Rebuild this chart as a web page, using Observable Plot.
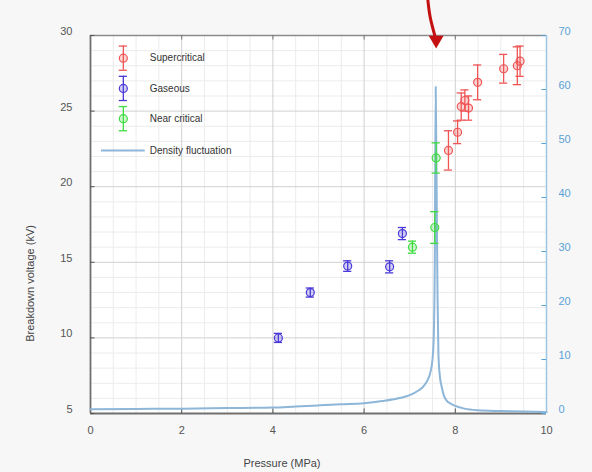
<!DOCTYPE html>
<html>
<head>
<meta charset="utf-8">
<script src="https://cdn.jsdelivr.net/npm/d3@7"></script>
<script src="https://cdn.jsdelivr.net/npm/@observablehq/plot@0.6"></script>
<style>
  html, body { margin: 0; padding: 0; background: #f7f7f7; }
  #chart { width: 592px; height: 472px; }
</style>
</head>
<body>
<div id="chart"></div>
<script>
// ---- data ----
const superX   = [7.85, 8.05, 8.13, 8.21, 8.29, 8.49, 9.06, 9.36, 9.42];
const superY   = [22.4, 23.6, 25.3, 25.7, 25.2, 26.9, 27.8, 28.0, 28.3];
const superErr = [1.3, 0.75, 0.9, 0.7, 0.8, 1.15, 0.95, 1.25, 1.0];

const gasX   = [4.12, 4.82, 5.64, 6.56, 6.84];
const gasY   = [10.0, 13.0, 14.75, 14.7, 16.9];
const gasErr = [0.3, 0.3, 0.35, 0.4, 0.4];

const nearX   = [7.06, 7.55, 7.58];
const nearY   = [16.0, 17.3, 21.9];
const nearErr = [0.4, 1.05, 1.0];

// density fluctuation (right axis units)
const densX = [0, 1, 2, 3, 4, 4.5, 5, 5.5, 6, 6.4, 6.8, 7.0, 7.2, 7.3, 7.4, 7.45, 7.5, 7.53, 7.55, 7.57, 7.59, 7.61, 7.63, 7.66, 7.7, 7.75, 7.8, 7.9, 8.0, 8.2, 8.5, 9, 9.5, 10];
const densY = [0.8, 0.85, 0.9, 1.0, 1.1, 1.3, 1.5, 1.7, 1.9, 2.3, 2.9, 3.4, 4.3, 5.0, 6.3, 7.5, 10, 15, 28, 60.5, 42, 22, 11, 7, 5, 3.3, 2.5, 1.8, 1.4, 0.9, 0.6, 0.45, 0.35, 0.3];

const xTicks = [0, 2, 4, 6, 8, 10];
const yTicks = [5, 10, 15, 20, 25, 30];
const rightTicks = [0, 10, 20, 30, 40, 50, 60, 70];
const legendLabels = ["Supercritical", "Gaseous", "Near critical", "Density fluctuation"];

const colors = { sup: "#ef5555", gas: "#4a3ad8", near: "#3fdc3f", dens: "#8db6d8", right: "#5aa2d6" };

// right axis (0..70) mapped onto left axis (5..30)
const toLeft = v => 5 + v * 25 / 70;
const fromLeft = v => (v - 5) * 70 / 25;

const zip = (xs, ys, es) => xs.map((x, i) => ({ x, y: ys[i], e: es[i] }));
const sup = zip(superX, superY, superErr);
const gas = zip(gasX, gasY, gasErr);
const near = zip(nearX, nearY, nearErr);
const dens = densX.map((x, i) => ({ x, y: toLeft(densY[i]) }));

const cap = 0.09;
function errMarks(data, color) {
  return [
    Plot.ruleX(data, { x: "x", y1: d => d.y - d.e, y2: d => d.y + d.e, stroke: color, strokeWidth: 1.3 }),
    Plot.ruleY(data, { y: d => d.y + d.e, x1: d => d.x - cap, x2: d => d.x + cap, stroke: color, strokeWidth: 1.3 }),
    Plot.ruleY(data, { y: d => d.y - d.e, x1: d => d.x - cap, x2: d => d.x + cap, stroke: color, strokeWidth: 1.3 }),
    Plot.dot(data, { x: "x", y: "y", r: 4, stroke: color, fill: color, fillOpacity: 0.25, strokeWidth: 1.2 })
  ];
}

// legend entries (inside plot, top-left)
const legendRows = [
  { label: legendLabels[0], color: colors.sup, x: 0.72, y: 28.5, e: 0.8 },
  { label: legendLabels[1], color: colors.gas, x: 0.72, y: 26.5, e: 0.8 },
  { label: legendLabels[2], color: colors.near, x: 0.72, y: 24.5, e: 0.8 }
];
const legendMarks = legendRows.flatMap(r => errMarks([r], r.color));

// minor grid
const minorX = d3.range(0.5, 10, 0.5).filter(v => v % 2 !== 0);
const minorY = d3.range(6, 30, 1).filter(v => v % 5 !== 0);

// arrow annotation
const arrowX = [7.40, 7.45, 7.55];
const arrowY = [32.3, 31.2, 30.0];

const chart = Plot.plot({
  width: 592,
  height: 472,
  marginLeft: 90,
  marginRight: 46,
  marginTop: 35,
  marginBottom: 59,
  x: { domain: [0, 10] },
  y: { domain: [5, 30] },
  style: { fontFamily: "Liberation Sans, Arial, sans-serif", background: "#f7f7f7", overflow: "visible" },
  marks: [
    Plot.frame({ fill: "white", stroke: "none" }),
    Plot.gridX(minorX, { stroke: "#ececec", strokeOpacity: 1 }),
    Plot.gridY(minorY, { stroke: "#ececec", strokeOpacity: 1 }),
    Plot.gridX([2, 4, 6, 8], { stroke: "#d0d0d0", strokeOpacity: 1 }),
    Plot.gridY([10, 15, 20, 25], { stroke: "#d0d0d0", strokeOpacity: 1 }),
    // frame edges
    Plot.ruleY([30], { stroke: "#8a8a8a", strokeWidth: 1.5 }),
    Plot.ruleX([10], { stroke: "#9cc6e4", strokeWidth: 1.5 }),
    Plot.ruleX([0], { stroke: "#707070", strokeWidth: 1.8 }),
    Plot.ruleY([5], { stroke: "#707070", strokeWidth: 1.8 }),
    // inward ticks
    Plot.ruleY(yTicks, { x1: 0, x2: 0.1, stroke: "#555" }),
    Plot.ruleX(xTicks.slice(1, -1), { y1: 5, y2: 5.3, stroke: "#555" }),
    Plot.ruleX(xTicks.slice(1, -1), { y1: 29.7, y2: 30, stroke: "#777" }),
    Plot.ruleY(rightTicks.map(toLeft), { x1: 9.9, x2: 10, stroke: "#5aa2d6" }),
    // axes labels
    Plot.axisX(xTicks, { tickSize: 0, tickPadding: 13, fontSize: 11, fill: "#555", label: null }),
    Plot.axisY(yTicks, { anchor: "left", tickSize: 0, tickPadding: 18, dy: -4, fontSize: 11, fill: "#555", label: null }),
    Plot.axisY(rightTicks.map(toLeft), { anchor: "right", tickSize: 0, tickPadding: 12, dy: -4, fontSize: 11, fill: colors.right, label: null, tickFormat: v => Math.round(fromLeft(v)) }),
    Plot.text(["Breakdown voltage (kV)"], { x: 0, y: 13.6, dx: -60, rotate: -90, fontSize: 11, fill: "#444", text: d => d }),
    Plot.text(["Pressure (MPa)"], { x: 4.2, y: 5, dy: 50, fontSize: 11, fill: "#444", text: d => d }),
    // density fluctuation
    Plot.line(dens, { x: "x", y: "y", stroke: colors.dens, strokeWidth: 2, curve: "monotone-x" }),
    // data
    ...errMarks(gas, colors.gas),
    ...errMarks(near, colors.near),
    ...errMarks(sup, colors.sup),
    // legend
    ...legendMarks,
    Plot.text(legendRows, { x: 1.3, y: "y", text: "label", textAnchor: "start", fontSize: 10, fill: "#333" }),
    Plot.ruleY([22.4], { x1: 0.24, x2: 1.2, stroke: colors.dens, strokeWidth: 2 }),
    Plot.text([legendLabels[3]], { x: 1.3, y: 22.4, text: d => d, textAnchor: "start", fontSize: 10, fill: "#333" }),
    // arrow annotation
    Plot.line(arrowX.map((x, i) => ({ x, y: arrowY[i] })), { x: "x", y: "y", stroke: "#c41010", strokeWidth: 3, curve: "natural" }),
    Plot.dot([{ x: 7.58, y: 29.7 }], { x: "x", y: "y", symbol: "triangle", rotate: 180, r: 5.5, fill: "#c41010", stroke: "none" })
  ]
});
document.getElementById("chart").appendChild(chart);
</script>
</body>
</html>
